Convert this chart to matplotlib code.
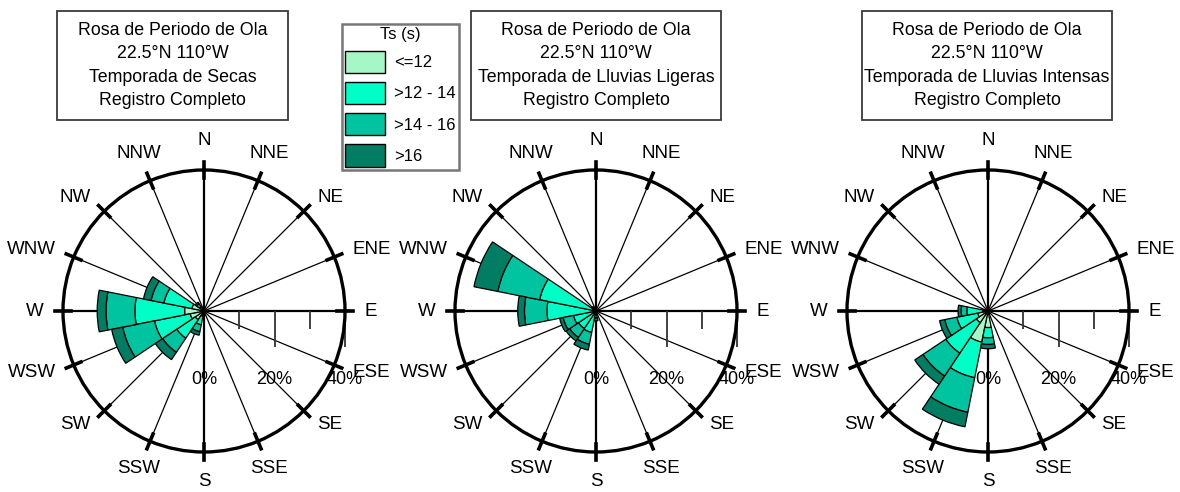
import numpy as np
import matplotlib.pyplot as plt
from matplotlib.patches import Patch, Rectangle
from matplotlib.transforms import offset_copy

plt.rcParams['font.family'] = ['Liberation Sans', 'DejaVu Sans']

directions = ["N", "NNE", "NE", "ENE", "E", "ESE", "SE", "SSE",
              "S", "SSW", "SW", "WSW", "W", "WNW", "NW", "NNW"]
classes = ["<=12", ">12 - 14", ">14 - 16", ">16"]
colors = ["#a6f7c6", "#00ffc6", "#00c4a0", "#007d62"]

titles = [
    "Rosa de Periodo de Ola\n22.5°N 110°W\nTemporada de Secas\nRegistro Completo",
    "Rosa de Periodo de Ola\n22.5°N 110°W\nTemporada de Lluvias Ligeras\nRegistro Completo",
    "Rosa de Periodo de Ola\n22.5°N 110°W\nTemporada de Lluvias Intensas\nRegistro Completo",
]

# frequency (%) per direction, one list per period class
#             N  NNE NE ENE E ESE SE SSE  S    SSW  SW   WSW  W    WNW  NW   NNW
secas_le12 = [0, 0, 0, 0, 0, 0, 0, 0,   0.3, 1.5, 3.0, 4.0, 5.5, 3.5, 0.5, 0.2]
secas_12_14 = [0, 0, 0, 0, 0, 0, 0, 0,  0.4, 2.5, 6.3, 10.3, 14.1, 8.1, 1.0, 0.3]
secas_14_16 = [0, 0, 0, 0, 0, 0, 0, 0,  0.4, 2.0, 4.8, 9.2, 8.2, 3.7, 1.0, 0.2]
secas_gt16 = [0, 0, 0, 0, 0, 0, 0, 0,   0.2, 1.0, 2.5, 3.2, 2.5, 2.2, 0.5, 0.1]

ligeras_le12 = [0, 0, 0, 0, 0, 0, 0, 0,  0.3, 0.8, 0.8, 0.8, 1.0, 1.0, 0.5, 0]
ligeras_12_14 = [0, 0, 0, 0, 0, 0, 0, 0, 0.7, 5.4, 5.2, 5.7, 12.9, 15.3, 0.5, 0]
ligeras_14_16 = [0, 0, 0, 0, 0, 0, 0, 0, 1.0, 3.4, 3.0, 3.0, 6.4, 12.1, 0.3, 0]
ligeras_gt16 = [0, 0, 0, 0, 0, 0, 0, 0,  0.8, 1.7, 1.2, 1.0, 1.9, 6.9, 0.2, 0]

intensas_le12 = [0, 0, 0, 0, 0, 0, 0, 0.3,  4.7, 9.0, 4.0, 3.0, 1.5, 0.3, 0, 0]
intensas_12_14 = [0, 0, 0, 0, 0, 0, 0, 0.2, 2.9, 10.3, 10.4, 6.0, 4.5, 0.3, 0, 0]
intensas_14_16 = [0, 0, 0, 0, 0, 0, 0, 0.2, 1.9, 10.0, 7.8, 3.5, 1.6, 0.2, 0, 0]
intensas_gt16 = [0, 0, 0, 0, 0, 0, 0, 0.1,  1.2, 4.2, 2.8, 1.5, 0.9, 0.1, 0, 0]

roses = [
    [secas_le12, secas_12_14, secas_14_16, secas_gt16],
    [ligeras_le12, ligeras_12_14, ligeras_14_16, ligeras_gt16],
    [intensas_le12, intensas_12_14, intensas_14_16, intensas_gt16],
]

W, H = 1180, 492
fig = plt.figure(figsize=(W / 100, H / 100), dpi=100)

centers_x = [204, 596, 988]
# title boxes (left, right) in pixels
boxes = [(57, 288), (471, 721), (862, 1112)]
box_top, box_bot = 11, 120
cy, R = 311, 141
rmax = 40
theta = np.deg2rad(np.arange(len(directions)) * 22.5)
width = np.deg2rad(22.5)

for i, (cx, data) in enumerate(zip(centers_x, roses)):
    ax = fig.add_axes([(cx - R) / W, (H - cy - R) / H, 2 * R / W, 2 * R / H],
                      projection='polar')
    ax.set_theta_zero_location('N')
    ax.set_theta_direction(-1)
    ax.set_ylim(0, rmax)
    ax.grid(False)
    ax.set_xticks([])
    ax.set_yticks([])
    ax.spines['polar'].set_linewidth(2.4)
    ax.patch.set_alpha(0)

    # spokes, rim ticks and direction labels
    for k, th in enumerate(theta):
        if k % 4 == 0:
            ax.plot([th, th], [0, 42.3], color='black', lw=1.6, zorder=1, clip_on=False)
        else:
            ax.plot([th, th], [0, rmax], color='black', lw=0.9, zorder=1)
        ax.plot([th, th], [37.8, 42.3], color='black', lw=2.6, zorder=1, clip_on=False)
        east = np.sin(th)
        if east > 0.5:
            ha, r = 'left', 45.5
        elif east < -0.5:
            ha, r = 'right', 45.5
        else:
            ha, r = 'center', 48.3
        ax.text(th, r, directions[k], ha=ha, va='center', fontsize=13.5, clip_on=False)

    # stacked wedges
    bottom = np.zeros(len(directions))
    for vals, c in zip(data, colors):
        vals = np.array(vals, dtype=float)
        m = vals > 0
        ax.bar(theta[m], vals[m], width=width, bottom=bottom[m], color=c,
               edgecolor='black', linewidth=0.9, zorder=3)
        bottom += vals

    # scale along E axis
    tr_minor = offset_copy(ax.transData, fig=fig, x=0, y=-9, units='dots')
    tr_major = offset_copy(ax.transData, fig=fig, x=0, y=-18, units='dots')
    ax.plot([np.pi / 2] * 2, [10, 30], ls='none', marker='|', ms=13, mew=1.3,
            color='#333333', transform=tr_minor, zorder=2)
    ax.plot([np.pi / 2] * 2, [20, 40], ls='none', marker='|', ms=26, mew=1.3,
            color='#333333', transform=tr_major, zorder=2, clip_on=False)
    tr_lab = offset_copy(ax.transData, fig=fig, x=0, y=-68, units='dots')
    for v in [0, 20, 40]:
        ax.text(np.pi / 2, v, f"{v}%", transform=tr_lab, ha='center', va='center',
                fontsize=13, zorder=5, clip_on=False)

    # title box
    x0, x1 = boxes[i]
    fig.patches.append(Rectangle((x0 / W, 1 - box_bot / H), (x1 - x0) / W,
                                 (box_bot - box_top) / H, transform=fig.transFigure,
                                 fc='white', ec='#3a3a3a', lw=1.3))
    fig.text((x0 + x1) / 2 / W, 1 - (box_top + box_bot) / 2 / H, titles[i],
             ha='center', va='center', fontsize=12.8, linespacing=1.5)

handles = [Patch(facecolor=c, edgecolor='black', lw=1, label=l) for c, l in zip(colors, classes)]
leg = fig.legend(handles=handles, loc='upper left', bbox_to_anchor=(342 / W, 1 - 24 / H),
                 title='Ts (s)', fontsize=12, title_fontsize=12, fancybox=False,
                 edgecolor='#555555', handlelength=2.4, handleheight=1.72,
                 labelspacing=0.5, borderpad=0.2, handletextpad=0.55, borderaxespad=0)
leg.get_frame().set_linewidth(1.8)

fig.savefig("out.png", dpi=100)
